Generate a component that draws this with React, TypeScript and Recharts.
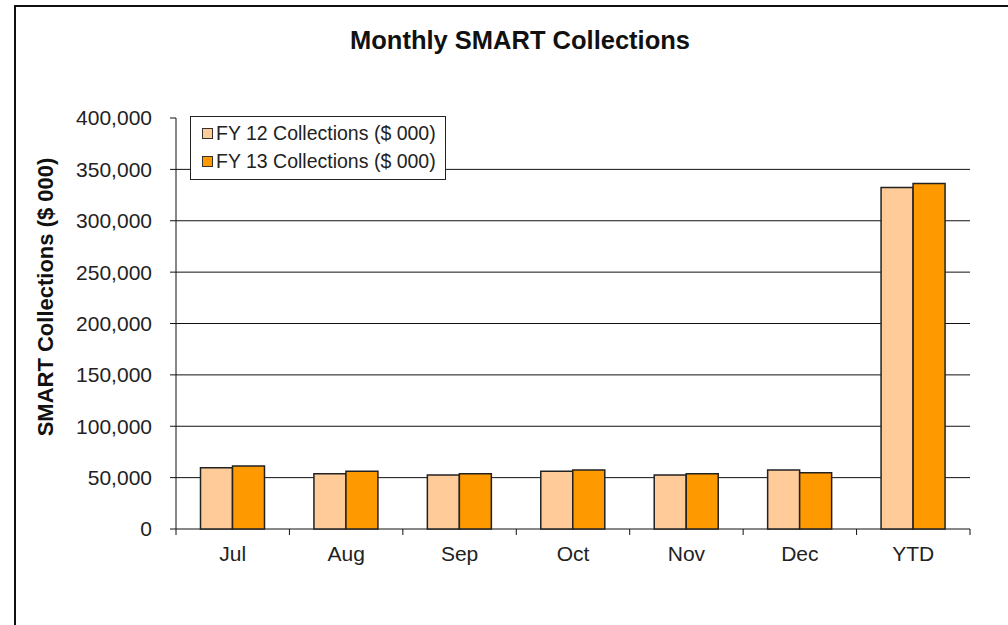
import React from "react";
import {
  Bar,
  BarChart,
  CartesianGrid,
  Legend,
  XAxis,
  YAxis,
} from "recharts";

const months = ["Jul", "Aug", "Sep", "Oct", "Nov", "Dec", "YTD"];
const fy12 = [59600, 53800, 52500, 56100, 52500, 57400, 332400];
const fy13 = [61300, 56100, 53800, 57400, 53800, 54800, 336300];
const yTicks = [0, 50000, 100000, 150000, 200000, 250000, 300000, 350000, 400000];
const gridValues = [50000, 100000, 150000, 200000, 250000, 300000, 350000];

const seriesNames = ["FY 12 Collections ($ 000)", "FY 13 Collections ($ 000)"];
const seriesColors = ["#ffcc99", "#ff9900"];

const data = months.map((m, i) => ({ month: m, fy12: fy12[i], fy13: fy13[i] }));

const FONT = "'Liberation Sans', Arial, sans-serif";

// category label centred in the band, tick marks on the band edges (Excel style)
function MonthTick(props: any) {
  const { x, y, payload, index, visibleTicksCount } = props;
  const half = payload.offset || 0;
  const last = index === visibleTicksCount - 1;
  return (
    <g>
      <line x1={x - half} x2={x - half} y1={y} y2={y + 6} stroke="#111" />
      {last && <line x1={x + half} x2={x + half} y1={y} y2={y + 6} stroke="#111" />}
      <text
        x={x}
        y={y + 17}
        dy="0.71em"
        textAnchor="middle"
        fontSize={21}
        fill="#222"
        fontFamily={FONT}
      >
        {payload.value}
      </text>
    </g>
  );
}

function LegendBox() {
  return (
    <div
      style={{
        border: "1px solid #222",
        background: "#fff",
        width: 254,
        padding: "2px 0 4px 0",
        fontFamily: FONT,
        fontSize: 19.5,
        color: "#222",
      }}
    >
      {seriesNames.map((name, i) => (
        <div
          key={name}
          style={{ display: "flex", alignItems: "center", height: 28, paddingLeft: 11 }}
        >
          <span
            style={{
              display: "inline-block",
              width: 9,
              height: 9,
              background: seriesColors[i],
              border: "1px solid #333",
              marginRight: 3,
            }}
          />
          <span style={{ whiteSpace: "nowrap" }}>{name}</span>
        </div>
      ))}
    </div>
  );
}

export default function App() {
  return (
    <div
      style={{
        position: "absolute",
        left: 0,
        top: 0,
        width: 1008,
        height: 625,
        overflow: "hidden",
        background: "#fff",
        fontFamily: FONT,
      }}
    >
      <div
        style={{
          position: "absolute",
          left: 14,
          top: 5,
          width: 1010,
          height: 640,
          borderTop: "2px solid #111",
          borderLeft: "2px solid #111",
        }}
      />
      <div
        style={{
          position: "absolute",
          left: 270,
          top: 26,
          width: 500,
          textAlign: "center",
          fontWeight: "bold",
          fontSize: 25.5,
          color: "#111",
        }}
      >
        Monthly SMART Collections
      </div>
      <div
        style={{
          position: "absolute",
          left: 46,
          top: 297,
          transform: "translate(-50%, -50%) rotate(-90deg)",
          whiteSpace: "nowrap",
          fontWeight: "bold",
          fontSize: 22,
          color: "#111",
        }}
      >
        SMART Collections ($ 000)
      </div>
      <BarChart
        width={1008}
        height={625}
        data={data}
        margin={{ top: 118, right: 38, bottom: 66, left: 0 }}
        barCategoryGap="21.6%"
        barGap={0}
        style={{ position: "absolute", left: 0, top: 0 }}
      >
        <CartesianGrid
          horizontal
          vertical={false}
          stroke="#111"
          horizontalValues={gridValues}
        />
        <XAxis
          dataKey="month"
          height={30}
          axisLine={false}
          tickLine={false}
          tickSize={0}
          tickMargin={0}
          interval={0}
          tick={<MonthTick />}
        />
        <YAxis
          width={176}
          domain={[0, 400000]}
          ticks={yTicks}
          interval={0}
          axisLine={{ stroke: "#111" }}
          tickLine={{ stroke: "#111" }}
          tickSize={6}
          tickMargin={18}
          tick={{ fontSize: 21, fill: "#222", fontFamily: FONT }}
          tickFormatter={(v: number) => v.toLocaleString("en-US")}
        />
        <Legend
          content={<LegendBox />}
          layout="vertical"
          align="center"
          verticalAlign="middle"
          wrapperStyle={{ position: "absolute", left: 190, top: 116, width: "auto", height: "auto" }}
        />
        <Bar
          dataKey="fy12"
          name={seriesNames[0]}
          fill={seriesColors[0]}
          stroke="#222"
          strokeWidth={1.5}
          isAnimationActive={false}
        />
        <Bar
          dataKey="fy13"
          name={seriesNames[1]}
          fill={seriesColors[1]}
          stroke="#222"
          strokeWidth={1.5}
          isAnimationActive={false}
        />
        <CartesianGrid
          horizontal
          vertical={false}
          stroke="#111"
          horizontalValues={[0]}
        />
      </BarChart>
    </div>
  );
}
